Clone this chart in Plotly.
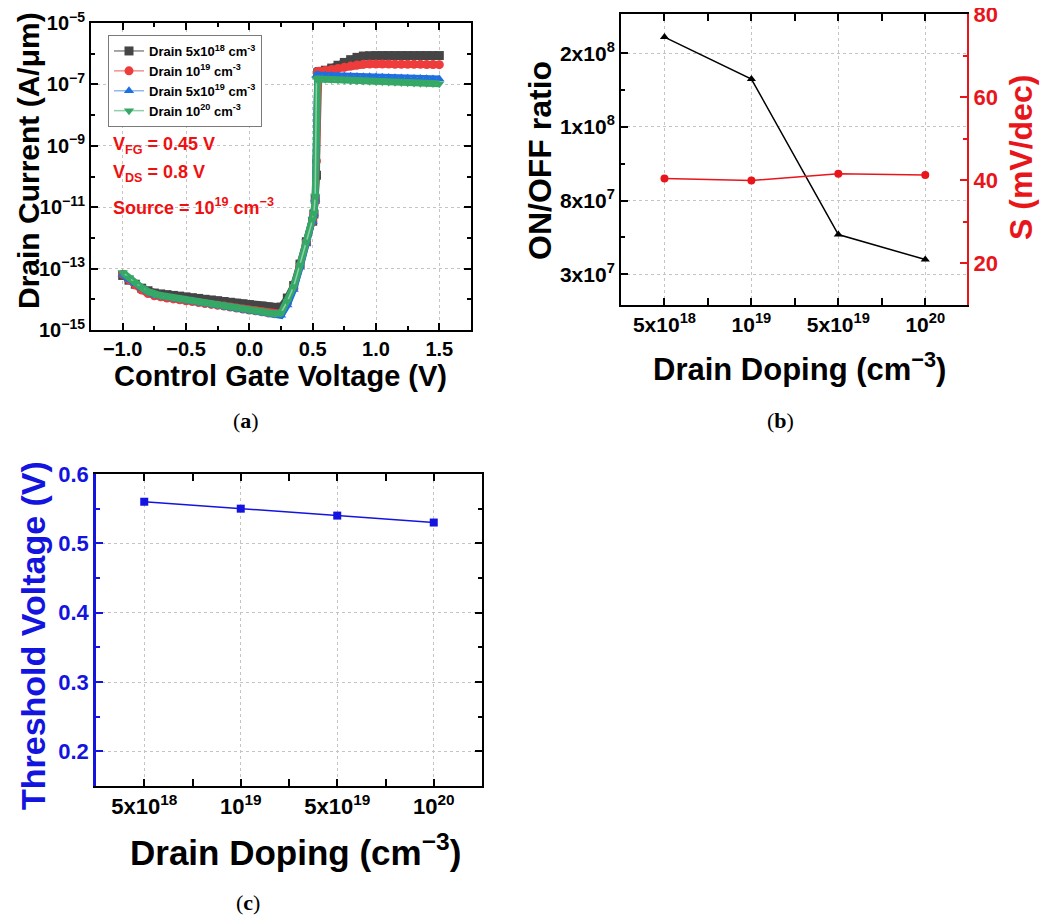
import plotly.graph_objects as go

# ---------------- Panel (a) data ----------------
vcg = [-1.00, -0.95, -0.90, -0.85, -0.80, -0.75, -0.70, -0.65, -0.60, -0.55,
       -0.50, -0.45, -0.40, -0.35, -0.30, -0.25, -0.20, -0.15, -0.10, -0.05,
       0.00, 0.05, 0.10, 0.15, 0.20, 0.25, 0.30, 0.35, 0.40, 0.45,
       0.50, 0.51, 0.52, 0.53, 0.54,
       0.55, 0.60, 0.65, 0.70, 0.75, 0.80, 0.85, 0.90, 0.95, 1.00,
       1.05, 1.10, 1.15, 1.20, 1.25, 1.30, 1.35, 1.40, 1.45, 1.50]

id_drain_5e18 = [6.0e-14, 4.2e-14, 3.1e-14, 2.3e-14, 1.9e-14, 1.6e-14, 1.5e-14, 1.42e-14, 1.34e-14, 1.27e-14,
                 1.2e-14, 1.13e-14, 1.07e-14, 1.0e-14, 9.5e-15, 9.0e-15, 8.5e-15, 8.0e-15, 7.5e-15, 7.1e-15,
                 6.7e-15, 6.3e-15, 6.0e-15, 5.6e-15, 5.3e-15, 5.6e-15, 1.1e-14, 2.8e-14, 1.4e-13, 7.5e-13,
                 3.5e-12, 6.0e-12, 1.8e-11, 1.1e-10, 2.4e-7,
                 2.6e-7, 2.9e-7, 3.4e-7, 4.2e-7, 5.2e-7, 6.4e-7, 7.6e-7, 8.4e-7, 8.6e-7, 8.7e-7,
                 8.7e-7, 8.7e-7, 8.7e-7, 8.7e-7, 8.7e-7, 8.7e-7, 8.7e-7, 8.7e-7, 8.7e-7, 8.7e-7]

id_drain_1e19 = [6.5e-14, 4.3e-14, 2.9e-14, 2.0e-14, 1.55e-14, 1.3e-14, 1.2e-14, 1.1e-14, 1.03e-14, 9.6e-15,
                 9.0e-15, 8.4e-15, 7.8e-15, 7.3e-15, 6.8e-15, 6.4e-15, 6.0e-15, 5.6e-15, 5.2e-15, 4.8e-15,
                 4.5e-15, 4.2e-15, 3.9e-15, 3.6e-15, 3.4e-15, 3.5e-15, 7.5e-15, 2.3e-14, 1.2e-13, 7.0e-13,
                 3.5e-12, 6.0e-12, 1.7e-11, 3.2e-10, 2.6e-7,
                 2.7e-7, 2.85e-7, 3.05e-7, 3.3e-7, 3.6e-7, 3.95e-7, 4.3e-7, 4.5e-7, 4.6e-7, 4.6e-7,
                 4.6e-7, 4.6e-7, 4.55e-7, 4.55e-7, 4.5e-7, 4.5e-7, 4.5e-7, 4.45e-7, 4.45e-7, 4.4e-7]

id_drain_5e19 = [6.5e-14, 4.5e-14, 3.2e-14, 2.3e-14, 1.75e-14, 1.42e-14, 1.3e-14, 1.2e-14, 1.11e-14, 1.03e-14,
                 9.6e-15, 8.9e-15, 8.2e-15, 7.6e-15, 7.0e-15, 6.5e-15, 6.0e-15, 5.5e-15, 5.1e-15, 4.7e-15,
                 4.4e-15, 4.0e-15, 3.7e-15, 3.4e-15, 3.1e-15, 3.0e-15, 6.5e-15, 2.1e-14, 1.1e-13, 6.8e-13,
                 3.5e-12, 6.0e-12, 1.8e-11, 2.0e-7, 2.0e-7,
                 2.0e-7, 1.97e-7, 1.94e-7, 1.91e-7, 1.88e-7, 1.85e-7, 1.82e-7, 1.79e-7, 1.76e-7, 1.73e-7,
                 1.7e-7, 1.67e-7, 1.64e-7, 1.61e-7, 1.59e-7, 1.57e-7, 1.55e-7, 1.53e-7, 1.51e-7, 1.5e-7]

id_drain_1e20 = [7.5e-14, 5.0e-14, 3.4e-14, 2.4e-14, 1.8e-14, 1.45e-14, 1.33e-14, 1.23e-14, 1.14e-14, 1.05e-14,
                 9.8e-15, 9.1e-15, 8.4e-15, 7.8e-15, 7.2e-15, 6.7e-15, 6.2e-15, 5.7e-15, 5.3e-15, 4.9e-15,
                 4.6e-15, 4.2e-15, 3.9e-15, 3.6e-15, 3.4e-15, 3.6e-15, 8.5e-15, 2.6e-14, 1.3e-13, 7.5e-13,
                 4.0e-12, 6.5e-12, 2.3e-11, 1.5e-7, 1.5e-7,
                 1.5e-7, 1.47e-7, 1.44e-7, 1.41e-7, 1.38e-7, 1.35e-7, 1.32e-7, 1.29e-7, 1.27e-7, 1.25e-7,
                 1.23e-7, 1.2e-7, 1.18e-7, 1.16e-7, 1.14e-7, 1.12e-7, 1.1e-7, 1.08e-7, 1.06e-7, 1.05e-7]

series_names = ["Drain 5x10<sup>18</sup> cm<sup>-3</sup>", "Drain 10<sup>19</sup> cm<sup>-3</sup>",
                "Drain 5x10<sup>19</sup> cm<sup>-3</sup>", "Drain 10<sup>20</sup> cm<sup>-3</sup>"]

current_tick_vals = [1e-15, 1e-13, 1e-11, 1e-9, 1e-7, 1e-5]
current_tick_text = ["10<sup>−15</sup>", "10<sup>−13</sup>", "10<sup>−11</sup>",
                     "10<sup>−9</sup>", "10<sup>−7</sup>", "10<sup>−5</sup>"]

# ---------------- Panels (b) and (c) data ----------------
doping_labels = ["5x10<sup>18</sup>", "10<sup>19</sup>", "5x10<sup>19</sup>", "10<sup>20</sup>"]
doping_pos = [0, 1, 2, 3]

# ON/OFF axis of the original uses equally spaced, non-uniform labels;
# values are given in that axis' label-index units.
onoff_tick_pos = [1, 2, 3, 4]
onoff_tick_text = ["3x10<sup>7</sup>", "8x10<sup>7</sup>", "1x10<sup>8</sup>", "2x10<sup>8</sup>"]
onoff_axis_units = [4.22, 3.65, 1.54, 1.20]

ss_tick_vals = [20, 40, 60, 80]
ss_mv_dec = [40.5, 40.0, 41.6, 41.3]
vth = [0.56, 0.55, 0.54, 0.53]

FONT = "Liberation Sans"
SERIF = "Liberation Serif"
GRID = "#c4c4c4"
OFF = 8          # page body margin
FW, FH = 1051 - OFF, 916 - OFF

def W(px):
    return (px - OFF) / FW

def H(py):
    return 1 - (py - OFF) / FH

fig = go.Figure()

styles = [("#454545", "square"), ("#ee3b3b", "circle"), ("#1f6fe0", "triangle-up"), ("#36a866", "triangle-down")]
light = ["#8a8a8a", "#f09090", "#8fb8f0", "#8fd0aa"]
for i, (name, ys, (col, sym), lc) in enumerate(zip(series_names,
                                   [id_drain_5e18, id_drain_1e19, id_drain_5e19, id_drain_1e20],
                                   styles, light)):
    fig.add_trace(go.Scatter(x=vcg, y=ys, mode="lines", showlegend=False, hoverinfo="skip",
                             legendgroup=str(i), line=dict(color=col, width=7),
                             xaxis="x", yaxis="y"))
    fig.add_trace(go.Scatter(x=vcg, y=ys, name=name, mode="lines+markers", legendgroup=str(i),
                             line=dict(color=lc, width=1.5),
                             marker=dict(color=col, symbol=sym, size=9, line=dict(width=0)),
                             xaxis="x", yaxis="y"))

fig.add_trace(go.Scatter(x=doping_pos, y=onoff_axis_units, mode="lines+markers", showlegend=False,
                         line=dict(color="black", width=1.5),
                         marker=dict(color="black", symbol="triangle-up", size=8),
                         xaxis="x2", yaxis="y2"))
fig.add_trace(go.Scatter(x=doping_pos, y=ss_mv_dec, mode="lines+markers", showlegend=False,
                         line=dict(color="#e8161b", width=1.5),
                         marker=dict(color="#e8161b", symbol="circle", size=8),
                         xaxis="x2", yaxis="y3"))
fig.add_trace(go.Scatter(x=doping_pos, y=vth, mode="lines+markers", showlegend=False,
                         line=dict(color="#1414e0", width=1.5),
                         marker=dict(color="#1414e0", symbol="square", size=8),
                         xaxis="x3", yaxis="y4"))
fig.add_trace(go.Scatter(x=doping_pos, y=vth, mode="lines", showlegend=False, hoverinfo="skip",
                         line=dict(color="rgba(0,0,0,0)", width=0),
                         xaxis="x3", yaxis="y5"))

def tf(size, color="black"):
    return dict(family=FONT, size=size, color=color, weight="bold")

def minor(color="black", **kw):
    d = dict(ticks="inside", ticklen=4, tickwidth=2, tickcolor=color, showgrid=False)
    d.update(kw)
    return d

common = dict(showline=True, linewidth=2, linecolor="black", ticks="inside", ticklen=7, tickwidth=2,
              tickcolor="black", zeroline=False, gridcolor=GRID, griddash="dot", gridwidth=1,
              automargin=False, ticklabeloverflow="allow")

fig.update_layout(
    template="none",
    width=FW, height=FH, margin=dict(l=0, r=0, t=0, b=0, autoexpand=False),
    paper_bgcolor="white", plot_bgcolor="white",
    showlegend=True,
    legend=dict(x=W(108), y=H(35), xanchor="left", yanchor="top", bgcolor="white",
                bordercolor="#7a7a7a", borderwidth=1,
                font=dict(family=FONT, size=13, color="black", weight="bold"),
                itemwidth=30, tracegroupgap=0),
    xaxis=dict(domain=[W(91), W(471)], anchor="y", range=[-1.25, 1.75], tick0=0, dtick=0.5,
               tickformat=".1f", mirror="allticks", showgrid=True, tickfont=tf(20),
               minor=minor(dtick=0.25), **common),
    yaxis=dict(domain=[H(330), H(23)], anchor="x", type="log", range=[-15, -5],
               tickvals=current_tick_vals, ticktext=current_tick_text,
               mirror="allticks", showgrid=True, tickfont=tf(20),
               minor=minor(tickvals=[1e-14, 1e-12, 1e-10, 1e-8, 1e-6]), **common),
    xaxis2=dict(domain=[W(621), W(967)], anchor="y2", range=[-0.5, 3.48],
                tickvals=doping_pos, ticktext=doping_labels, mirror="allticks", showgrid=True,
                tickfont=tf(21), minor=minor(tickvals=[0.5, 1.5, 2.5]), **common),
    yaxis2=dict(domain=[H(305), H(14)], anchor="x2", range=[0.583, 4.533],
                tickvals=onoff_tick_pos, ticktext=onoff_tick_text, mirror=False, showgrid=True,
                tickfont=tf(21), minor=minor(tickvals=[1.5, 2.5, 3.5]), **common),
    yaxis3=dict(overlaying="y2", anchor="x2", side="right", range=[10, 80.1],
                tickmode="array", tickvals=ss_tick_vals, ticktext=[str(v) for v in ss_tick_vals],
                showline=True, linewidth=2, linecolor="#e8161b",
                ticks="inside", ticklen=7, tickwidth=2, tickcolor="#e8161b", showgrid=False, zeroline=False,
                automargin=False, ticklabeloverflow="allow", tickfont=tf(22, "#e8161b"),
                minor=minor("#e8161b", tickvals=[30, 50, 70])),
    xaxis3=dict(domain=[W(96), W(482)], anchor="y4", range=[-0.5, 3.5],
                tickvals=doping_pos, ticktext=doping_labels, mirror="allticks", showgrid=True,
                tickfont=tf(22), minor=minor(tickvals=[0.5, 1.5, 2.5]), **common),
    yaxis4=dict(domain=[H(786), H(474)], anchor="x3", range=[0.15, 0.6], tick0=0, dtick=0.1,
                showline=True, linewidth=2.5, linecolor="#1414e0", ticks="inside", ticklen=7, tickwidth=2,
                tickcolor="#1414e0", zeroline=False, gridcolor=GRID, griddash="dot", showgrid=True,
                tickformat=".1f", automargin=False, ticklabeloverflow="allow", tickfont=tf(22, "#1414e0"),
                minor=minor("#1414e0", dtick=0.05)),
    yaxis5=dict(overlaying="y4", anchor="x3", side="right", range=[0.15, 0.6], tick0=0, dtick=0.1,
                showline=True, linewidth=2, linecolor="black", ticks="inside", ticklen=7, tickwidth=2,
                tickcolor="black", showticklabels=False, showgrid=False, zeroline=False, automargin=False,
                minor=minor(dtick=0.05)),
)

def ann(text, x, y, size, color="black", angle=0, family=FONT, xanchor="center", yanchor="middle"):
    fig.add_annotation(text=text, x=x, y=y, xref="paper", yref="paper", showarrow=False,
                       textangle=angle, xanchor=xanchor, yanchor=yanchor,
                       font=dict(family=family, size=size, color=color, weight="bold"))

# Axis titles
ann("Drain Current (A/μm)", W(28), H(161), 30, angle=-90)
ann("Control Gate Voltage (V)", W(280), H(376), 29)
ann("ON/OFF ratio", W(540), H(161), 32, angle=-90)
ann("S (mV/dec)", W(1021), H(158), 32, color="#e8161b", angle=-90)
ann("Drain Doping (cm<sup>−3</sup>)", W(799), H(367), 31)
ann("Threshold Voltage (V)", W(33), H(636), 34, color="#1414e0", angle=-90)
ann("Drain Doping (cm<sup>−3</sup>)", W(295), H(850), 35)

# In-plot red notes for panel (a)
RED = "#f01010"
ann("V<sub>FG</sub> = 0.45 V", W(111), H(145), 18, color=RED, xanchor="left")
ann("V<sub>DS</sub> = 0.8 V", W(111), H(174), 18, color=RED, xanchor="left")
ann("Source = 10<sup>19</sup> cm<sup>−3</sup>", W(111), H(207), 18, color=RED, xanchor="left")

# Panel captions
for t, x, y in [("(<b>a</b>)", 246, 421), ("(<b>b</b>)", 780, 421), ("(<b>c</b>)", 248, 902)]:
    fig.add_annotation(text=t, x=W(x), y=H(y), xref="paper", yref="paper", showarrow=False,
                       xanchor="center", yanchor="middle",
                       font=dict(family=SERIF, size=22, color="black"))

fig.write_html("out.html")
